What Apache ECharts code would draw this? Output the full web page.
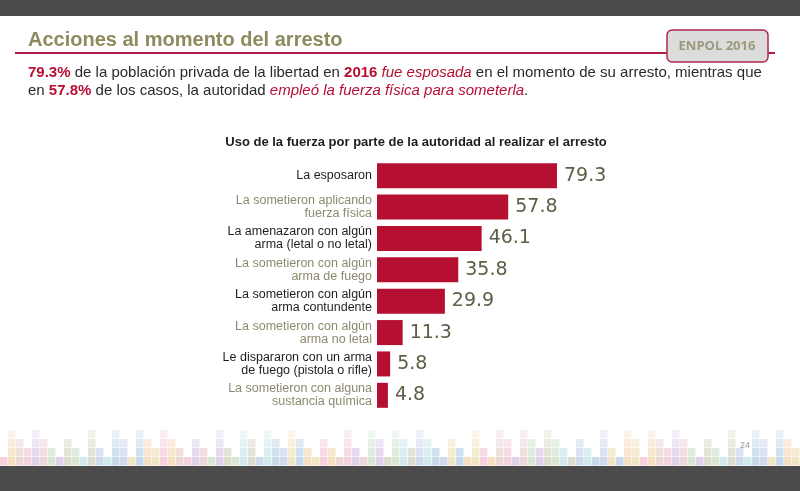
<!DOCTYPE html>
<html><head><meta charset="utf-8">
<script src="https://cdn.jsdelivr.net/npm/echarts@6/dist/echarts.min.js"></script>
<style>html,body{margin:0;padding:0;background:#fff}#c{width:800px;height:491px}</style>
</head><body><div id="c"></div>
<script>
const categories = [
  "La esposaron",
  "La sometieron aplicando\nfuerza física",
  "La amenazaron con algún\narma (letal o no letal)",
  "La sometieron con algún\narma de fuego",
  "La sometieron con algún\narma contundente",
  "La sometieron con algún\narma no letal",
  "Le dispararon con un arma\nde fuego (pistola o rifle)",
  "La sometieron con alguna\nsustancia química"
];
const values = [79.3, 57.8, 46.1, 35.8, 29.9, 11.3, 5.8, 4.8];
const titleText = "Acciones al momento del arresto";
const badgeText = "ENPOL 2016";
const chartTitle = "Uso de la fuerza por parte de la autoridad al realizar el arresto";

const chart = echarts.init(document.getElementById('c'), null, {renderer:'canvas'});

// decorative pixel strip (deterministic pattern)
const palette = ['#f3c9d6','#cfe3cf','#c9d3ea','#f6d9b8','#d9c9e6','#c8e6ea','#efe2b8','#e9cfcf','#d6d6c4','#bcd2e8'];
const deco = [];
for (let i = 0; i < 100; i++) {
  const h = 1 + ((i * 7 + (i >> 2) * 3) % 4);
  const col = palette[(i * 3 + (i >> 1)) % palette.length];
  for (let r = 0; r < h; r++) {
    deco.push({type:'rect', shape:{x:i*8, y:457 - r*9, width:7.5, height:8.5},
      style:{fill:col, opacity: 0.85 - 0.18*r}, silent:true, z:0});
  }
}

const option = {
  backgroundColor:'#ffffff',
  animation:false,
  grid:{left:377, top:160, width:227, height:251, containLabel:false},
  xAxis:{type:'value', min:0, max:100, show:false},
  yAxis:{type:'category', data:categories, inverse:true,
    axisLine:{show:false}, axisTick:{show:false},
    axisLabel:{margin:5, fontFamily:'Liberation Sans Narrow, Liberation Sans', fontSize:12.5, lineHeight:13,
      align:'right',
      formatter:(v, i) => i % 2 === 0 ? '{a|' + v.split('\n').join('}\n{a|') + '}' : '{b|' + v.split('\n').join('}\n{b|') + '}',
      rich:{a:{color:'#1e1e1e', fontFamily:'Liberation Sans Narrow, Liberation Sans', fontSize:12.5, lineHeight:13, align:'right'},
            b:{color:'#8c8a6e', fontFamily:'Liberation Sans Narrow, Liberation Sans', fontSize:12.5, lineHeight:13, align:'right'}}}},
  series:[{type:'bar', data:values, barWidth:25,
    itemStyle:{color:'#b50f32'},
    label:{show:true, position:'right', distance:7, color:'#5f5d46', fontSize:19,
      fontFamily:'DejaVu Sans', formatter:p => p.value.toFixed(1)}}],
  graphic:[
    {type:'rect', shape:{x:0,y:0,width:800,height:16}, style:{fill:'#4a4a4a'}, silent:true},
    {type:'rect', shape:{x:0,y:466,width:800,height:25}, style:{fill:'#4b4b4b'}, silent:true},
    ...deco,
    {type:'text', left:28, top:30, style:{text:titleText, fill:'#8d8b5e', font:'bold 20px "Liberation Sans", Arial'}},
    {type:'line', shape:{x1:15,y1:53,x2:775,y2:53}, style:{stroke:'#b01b45', lineWidth:2}},
    {type:'rect', shape:{x:667,y:30,width:101,height:32,r:5}, style:{fill:'#dcdcdc', stroke:'#b0294b', lineWidth:1.5}},
    {type:'text', x:717, y:46, style:{text:badgeText, fill:'#9b9a7c', font:'bold 13px "Open Sans", "Liberation Sans"', align:'center', verticalAlign:'middle'}},
    {type:'text', left:28, top:64, style:{
      rich:{r:{fill:'#b50f32', font:'bold 15px "Liberation Sans"'},
            n:{fill:'#2a2a2a', font:'15px "Liberation Sans"'},
            i:{fill:'#b50f32', font:'italic 15px "Liberation Sans"'}},
      text:'{r|79.3%}{n| de la población privada de la libertad en }{r|2016}{n| }{i|fue esposada}{n| en el momento de su arresto, mientras que}\n{n|en }{r|57.8%}{n| de los casos, la autoridad }{i|empleó la fuerza física para someterla}{n|.}',
      lineHeight:18}},
    {type:'text', x:416, y:142, style:{text:chartTitle, fill:'#1e1e1e', font:'bold 13px "Liberation Sans"', align:'center', verticalAlign:'middle'}},
    {type:'text', x:745, y:446, style:{text:'24', fill:'#9a9a9a', font:'9px "Liberation Sans"', align:'center', verticalAlign:'middle'}}
  ]
};
chart.setOption(option);
</script></body></html>
